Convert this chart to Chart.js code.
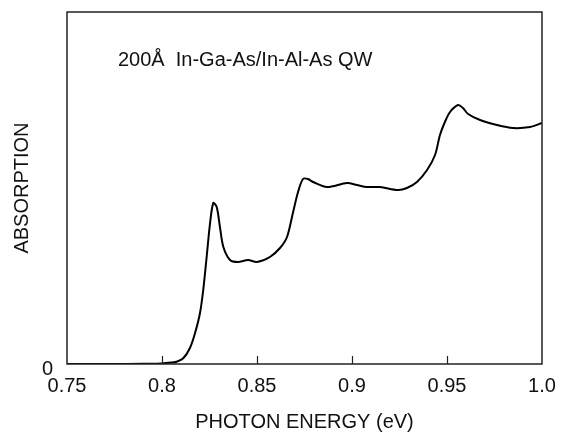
<!DOCTYPE html>
<html>
<head>
<meta charset="utf-8">
<script src="https://cdn.jsdelivr.net/npm/chart.js@4.4.0/dist/chart.umd.min.js"></script>
<style>
  html, body { margin: 0; padding: 0; background: #fff; }
  #wrap { width: 563px; height: 434px; }
</style>
</head>
<body>
<div id="wrap"><canvas id="absChart" width="563" height="434"></canvas></div>
<script>
// photon energy (eV) and absorption (arbitrary units)
const energy = [0.750, 0.773, 0.790, 0.800, 0.805, 0.8077, 0.8112, 0.8147, 0.8174, 0.8200,
  0.8217, 0.8235, 0.8253, 0.8270, 0.8288, 0.8305, 0.8323, 0.8358, 0.8400,
  0.8453, 0.8500, 0.8568, 0.8621, 0.8658, 0.8689, 0.8716, 0.8742, 0.8768, 0.8795,
  0.8868, 0.8974, 0.9026, 0.9079, 0.9147, 0.9242, 0.9289, 0.9342, 0.9395, 0.9437,
  0.9463, 0.9489, 0.9516, 0.9558, 0.9584, 0.9611, 0.9674, 0.9763, 0.9847, 0.9937, 1.000];
const absorption = [0, 0, 0.3, 0.6, 1.5, 2.3, 5.7, 16, 31, 51,
  74, 107, 141, 161, 157, 137, 117, 104, 102,
  104, 102, 107, 116, 127, 151, 172, 185, 185, 182,
  177, 181, 179, 177, 177, 174, 176, 182, 194, 209,
  229, 242, 252, 259, 256, 250, 244, 239, 236, 237, 241];

const xTicks = [0.75, 0.8, 0.85, 0.9, 0.95, 1.0];
const xTickLabels = ['0.75', '0.8', '0.85', '0.9', '0.95', '1.0'];
const innerTicks = [0.8, 0.85, 0.9, 0.95];

const labelText = '200Å  In-Ga-As/In-Al-As QW';
const labelPos = {x: 0.7768, y: 304};

const FONT = '"Liberation Sans", Arial, Helvetica, sans-serif';
const INK = '#111';

const framePlugin = {
  id: 'frame',
  afterDraw(chart) {
    const {ctx, chartArea: a, scales} = chart;
    ctx.save();
    ctx.strokeStyle = '#222';
    ctx.lineWidth = 1.5;
    ctx.strokeRect(a.left, a.top, a.right - a.left, a.bottom - a.top);

    // ticks pointing into the plot
    ctx.beginPath();
    innerTicks.forEach(v => {
      const px = Math.round(scales.x.getPixelForValue(v)) + 0.5;
      ctx.moveTo(px, a.bottom);
      ctx.lineTo(px, a.bottom - 8);
    });
    ctx.lineWidth = 1.2;
    ctx.stroke();

    ctx.fillStyle = INK;
    ctx.font = '20px ' + FONT;
    ctx.textBaseline = 'middle';
    ctx.fillText(labelText, scales.x.getPixelForValue(labelPos.x), scales.y.getPixelForValue(labelPos.y));
    ctx.restore();
  }
};

const points = energy.map((e, i) => ({x: e, y: absorption[i]}));

new Chart(document.getElementById('absChart'), {
  type: 'line',
  data: {
    datasets: [{
      data: points,
      borderColor: '#000',
      borderWidth: 2,
      pointRadius: 0,
      fill: false,
      tension: 0.3
    }]
  },
  options: {
    responsive: false,
    animation: false,
    layout: {padding: {top: 12, right: 21, left: 0, bottom: 0}},
    plugins: {legend: {display: false}, tooltip: {enabled: false}},
    scales: {
      x: {
        type: 'linear',
        min: 0.75,
        max: 1.0,
        afterBuildTicks: scale => { scale.ticks = xTicks.map(v => ({value: v})); },
        afterFit: scale => {
          scale.height = 70;
          scale.paddingLeft = 0;
          scale.paddingRight = 0;
        },
        grid: {display: false, drawTicks: false},
        border: {display: false},
        ticks: {
          color: INK,
          padding: 10,
          maxRotation: 0,
          font: {size: 20, family: FONT},
          callback: value => {
            const i = xTicks.findIndex(t => Math.abs(t - value) < 1e-6);
            return i >= 0 ? xTickLabels[i] : '';
          }
        },
        title: {
          display: true,
          text: 'PHOTON ENERGY (eV)',
          color: INK,
          font: {size: 20, family: FONT},
          padding: {top: 12, bottom: 0}
        }
      },
      y: {
        min: 0,
        max: 352,
        afterBuildTicks: scale => { scale.ticks = [{value: 0}]; },
        afterFit: scale => {
          scale.width = 67;
          scale.paddingTop = 0;
          scale.paddingBottom = 0;
        },
        grid: {display: false, drawTicks: false},
        border: {display: false},
        ticks: {
          color: INK,
          padding: 14,
          labelOffset: 5,
          font: {size: 20, family: FONT},
          callback: () => '0'
        },
        title: {
          display: true,
          text: 'ABSORPTION',
          color: INK,
          font: {size: 20, family: FONT},
          padding: {top: 10, bottom: 0}
        }
      }
    }
  },
  plugins: [framePlugin]
});
</script>
</body>
</html>
